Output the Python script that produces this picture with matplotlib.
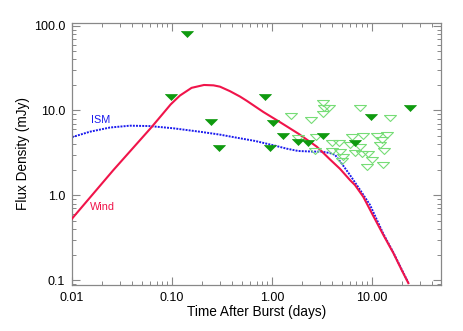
import matplotlib
matplotlib.use('Agg')
import matplotlib.pyplot as plt
from matplotlib.ticker import LogLocator, NullFormatter

plt.rcParams['font.family'] = ['Liberation Sans', 'DejaVu Sans']

# model curves (days, mJy)
wind_t = [0.01, 0.0259, 0.062, 0.08, 0.097, 0.12, 0.157, 0.209, 0.26, 0.302,
          0.38, 0.479, 0.56, 0.82, 1.2, 1.85, 2.8, 3.14, 3.8, 4.79, 6.03, 6.76,
          8.18, 10.0, 13.0, 16.4, 19.9, 23.1]
wind_f = [0.53, 1.98, 6.3, 9.0, 11.8, 15.0, 18.5, 20.0, 19.8, 19.1,
          16.9, 14.6, 13.0, 9.6, 7.3, 5.3, 3.75, 3.3, 2.65, 2.05, 1.51, 1.32,
          0.96, 0.61, 0.34, 0.207, 0.13, 0.092]

ism_t = [0.01, 0.0151, 0.024, 0.038, 0.06, 0.103, 0.19, 0.3, 0.479, 0.68, 1.07,
         1.4, 1.83, 2.5, 3.14, 3.8, 4.27, 5.0, 6.03, 7.59, 9.55, 13.0, 16.4,
         19.9, 23.1]
ism_f = [4.85, 5.62, 6.3, 6.62, 6.55, 6.17, 5.62, 5.2, 4.7, 4.37, 3.85,
         3.55, 3.33, 3.28, 3.27, 3.15, 3.0, 2.35, 1.73, 1.16, 0.77, 0.35, 0.21,
         0.132, 0.093]

# detections / filled upper limits
filled_t = [0.097, 0.140, 0.244, 0.295, 0.845, 1.03, 1.28, 0.955, 1.83, 2.31,
            3.26, 6.76, 9.85, 24.0]
filled_f = [14.5, 79.0, 7.38, 3.64, 14.5, 7.06, 5.0, 3.58, 4.29, 4.17,
            5.03, 4.14, 8.45, 10.8]

# open upper limits
open_t = [3.26, 3.35, 3.74, 3.26, 1.56, 2.45, 7.59, 15.3, 2.75, 3.95, 4.71,
          6.27, 8.18, 11.3, 14.2, 12.5, 12.0, 7.59, 3.95, 4.79, 2.69, 6.76,
          7.88, 9.18, 5.16, 9.93, 4.98, 8.85, 13.0, 13.2, 6.03, 1.82]
open_f = [12.2, 10.6, 10.8, 9.0, 8.55, 7.73, 10.6, 8.22, 4.83, 4.17, 4.17,
          4.83, 5.0, 5.0, 5.14, 4.49, 3.92, 3.68, 3.36, 3.27, 3.36, 3.13,
          3.07, 3.04, 2.85, 2.61, 2.56, 2.17, 2.28, 3.36, 3.92, 4.73]

xticks = [0.01, 0.1, 1.0, 10.0]
xlabels = ['0.01', '0.10', '1.00', '10.00']
yticks = [0.1, 1.0, 10.0, 100.0]
ylabels = ['0.1', '1.0', '10.0', '100.0']

tri = [(-1, 0.5), (1, 0.5), (0, -0.5), (-1, 0.5)]

fig = plt.figure(figsize=(4.63, 3.31), dpi=100)
ax = fig.add_axes([0.1555, 0.139, 0.797, 0.7924])

ax.plot(ism_t, ism_f, color='#1a1aee', lw=1.4, ls=(0, (1, 0.6)), zorder=2)
ax.plot(wind_t, wind_f, color='#f0144a', lw=1.5, zorder=3)

ax.plot(open_t, open_f, ls='none', marker=tri, ms=8.6, mfc='none',
        mec='#77dd77', mew=0.8, zorder=4)
ax.plot(filled_t, filled_f, ls='none', marker=tri, ms=8.6, mfc='#0f9a0f',
        mec='#0f9a0f', mew=0.5, zorder=5)

ax.text(0.0154, 7.7, 'ISM', color='#1a1aee', fontsize=7.8, va='center')
ax.text(0.0151, 0.72, 'Wind', color='#f0144a', fontsize=7.8, va='center')

ax.set_xscale('log')
ax.set_yscale('log')
ax.set_xlim(0.01, 49)
ax.set_ylim(0.0875, 108.5)

ax.set_xticks(xticks, xlabels)
ax.set_yticks(yticks, ylabels)
ax.xaxis.set_minor_locator(LogLocator(base=10, subs=range(2, 10)))
ax.yaxis.set_minor_locator(LogLocator(base=10, subs=range(2, 10)))
ax.xaxis.set_minor_formatter(NullFormatter())
ax.yaxis.set_minor_formatter(NullFormatter())

ax.tick_params(which='both', direction='in', top=True, right=True,
               color='#888888', labelsize=9, labelcolor='black')
ax.tick_params(which='major', length=5.5, width=0.8, pad=5)
ax.tick_params(which='minor', length=3, width=0.7)
for s in ax.spines.values():
    s.set_color('#888888')
    s.set_linewidth(0.9)

ax.set_xlabel('Time After Burst (days)', fontsize=9.8, labelpad=1)
ax.set_ylabel('Flux Density (mJy)', fontsize=9.8, labelpad=3)

fig.savefig('out.png', dpi=100)
